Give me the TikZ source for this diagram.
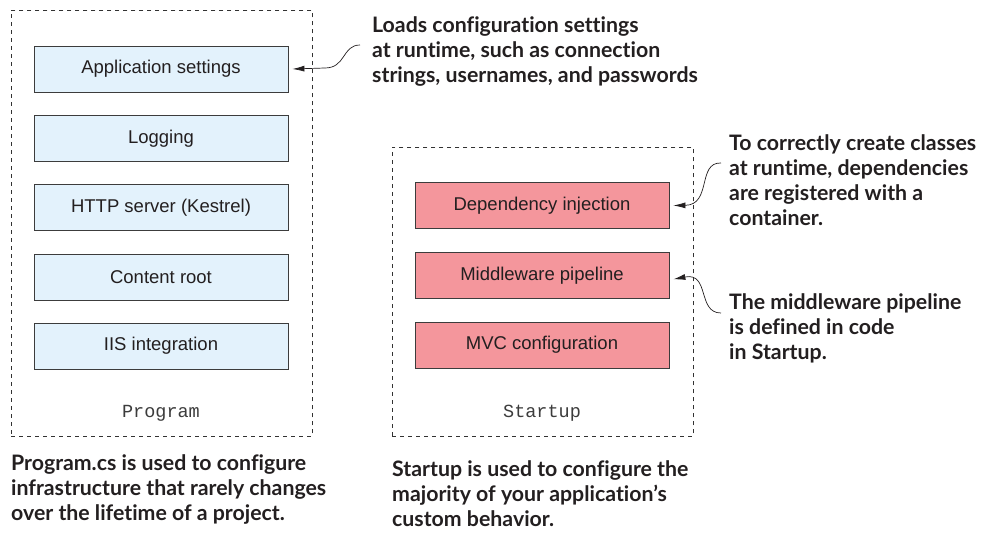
\documentclass[tikz,border=0pt]{standalone}
\usepackage{fontspec}
\usepackage{tikz}
\usetikzlibrary{positioning,arrows.meta}

\newfontfamily\boxfamily{Liberation Sans}
\newfontfamily\notefamily{Lato}[Ligatures={NoCommon}]
\newfontfamily\codefamily{Liberation Mono}

\definecolor{settingblue}{RGB}{227,242,252}
\definecolor{startpink}{RGB}{244,150,156}
\definecolor{boxline}{RGB}{60,60,60}
\definecolor{notetext}{RGB}{35,31,32}
\definecolor{framegray}{RGB}{50,50,50}

\begin{document}
\begin{tikzpicture}[x=1pt,y=-1pt]
\useasboundingbox (0,0) rectangle (981,535);

\tikzstyle{frame}=[draw=framegray,line width=0.8pt,dash pattern=on 4pt off 4pt,anchor=north west,inner sep=0pt,minimum width=301pt]
\tikzstyle{setting}=[draw=boxline,fill=settingblue,line width=0.8pt,inner sep=0pt,minimum width=254pt,minimum height=46pt,text=notetext,font=\boxfamily\fontsize{18.5}{22}\selectfont]
\tikzstyle{startpart}=[setting,fill=startpink]
\tikzstyle{codelabel}=[text=boxline,font=\codefamily\fontsize{18.5}{22}\selectfont]
\tikzstyle{note}=[anchor=north west,inner sep=0pt,align=left,text=notetext,font=\notefamily\bfseries\fontsize{21.3}{25}\selectfont]
\tikzstyle{callout}=[draw=notetext,line width=0.7pt,-{Latex[length=12pt,width=6pt]}]

    %program side
    \node (program) [frame,minimum height=426pt] at (11,10) {};
    \node (appset) [setting] at (161,69) {Application settings};
    \node (logging) [setting,below=22.5pt of appset] {Logging};
    \node (http) [setting,below=22.5pt of logging] {HTTP server (Kestrel)};
    \node (content) [setting,below=22.5pt of http] {Content root};
    \node (iis) [setting,below=22.5pt of content] {IIS integration};
    \node (program_label) [codelabel] at (161,413) {Program};

    %startup side
    \node (startup) [frame,minimum height=289pt] at (392,147) {};
    \node (di) [startpart] at (542,205.5) {Dependency injection};
    \node (pipeline) [startpart,below=23pt of di] {Middleware pipeline};
    \node (mvc) [startpart,below=23pt of pipeline] {MVC configuration};
    \node (startup_label) [codelabel] at (542,413) {Startup};

    %notes
    \node (loads_note) [note] at (372,16.5) {Loads configuration settings\\at runtime, such as connection\\strings, usernames, and passwords};
    \node (di_note) [note] at (729,134.5) {To correctly create classes\\at runtime, dependencies\\are registered with a\\container.};
    \node (pipeline_note) [note] at (729,293.5) {The middleware pipeline\\is defined in code\\in Startup.};
    \node (program_note) [note] at (11,454.5) {Program.cs is used to configure\\infrastructure that rarely changes\\over the lifetime of a project.};
    \node (startup_note) [note] at (392,460.5) {Startup is used to configure the\\majority of your application’s\\custom behavior.};

    \coordinate (loads_foot) at (360,45);
    \coordinate (di_foot) at (721,163);
    \coordinate (pipeline_foot) at (721,313);

    %callouts
    \draw [callout] (loads_foot) .. controls (342,45) and (346,68) .. (325,68) -- ([xshift=4pt]appset.east);
    \draw [callout] (di_foot) .. controls (697,162) and (712,205) .. ([xshift=4pt]di.east);
    \draw [callout] (pipeline_foot) .. controls (697,313) and (710,272) .. ([xshift=4pt,yshift=-4pt]pipeline.east);
\end{tikzpicture}
\end{document}
